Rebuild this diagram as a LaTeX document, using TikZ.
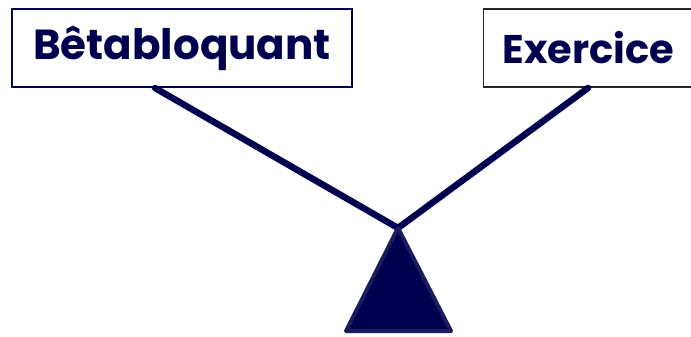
\documentclass[tikz,border=0pt]{standalone}
\usepackage{fontspec}
\setmainfont{Poppins}[UprightFont=* Bold]
\definecolor{navy}{HTML}{00004F}
\definecolor{navyedge}{HTML}{1A1A5C}
\begin{document}
\begin{tikzpicture}[x=1pt,y=-1pt,
  label box/.style={draw, line width=1.2pt, inner sep=0pt, font=\fontsize{42}{44}\selectfont, text=navy},
  beam/.style={draw=navy, line width=6.5pt, line cap=round}]
\useasboundingbox (0,0) rectangle (691,337);
\node[label box, draw=navy, minimum width=340, minimum height=78] (beta) at (182,48) {Bêtabloquant};
\node[label box, draw=black!85, minimum width=210, minimum height=78, anchor=west, font=\fontsize{40}{42}\selectfont] (ex) at (483,48) {Exercice};
\coordinate (pivot) at (398,228);
\coordinate (lb) at (155,88);
\coordinate (rb) at (588,88);
\draw[beam] (lb) -- (pivot) -- (rb);
\coordinate (bl) at (346,331);
\coordinate (br) at (451,331);
\filldraw[fill=navy, draw=navyedge, line width=4pt, line join=round] (pivot) -- (br) -- (bl) -- cycle;
\end{tikzpicture}
\end{document}
